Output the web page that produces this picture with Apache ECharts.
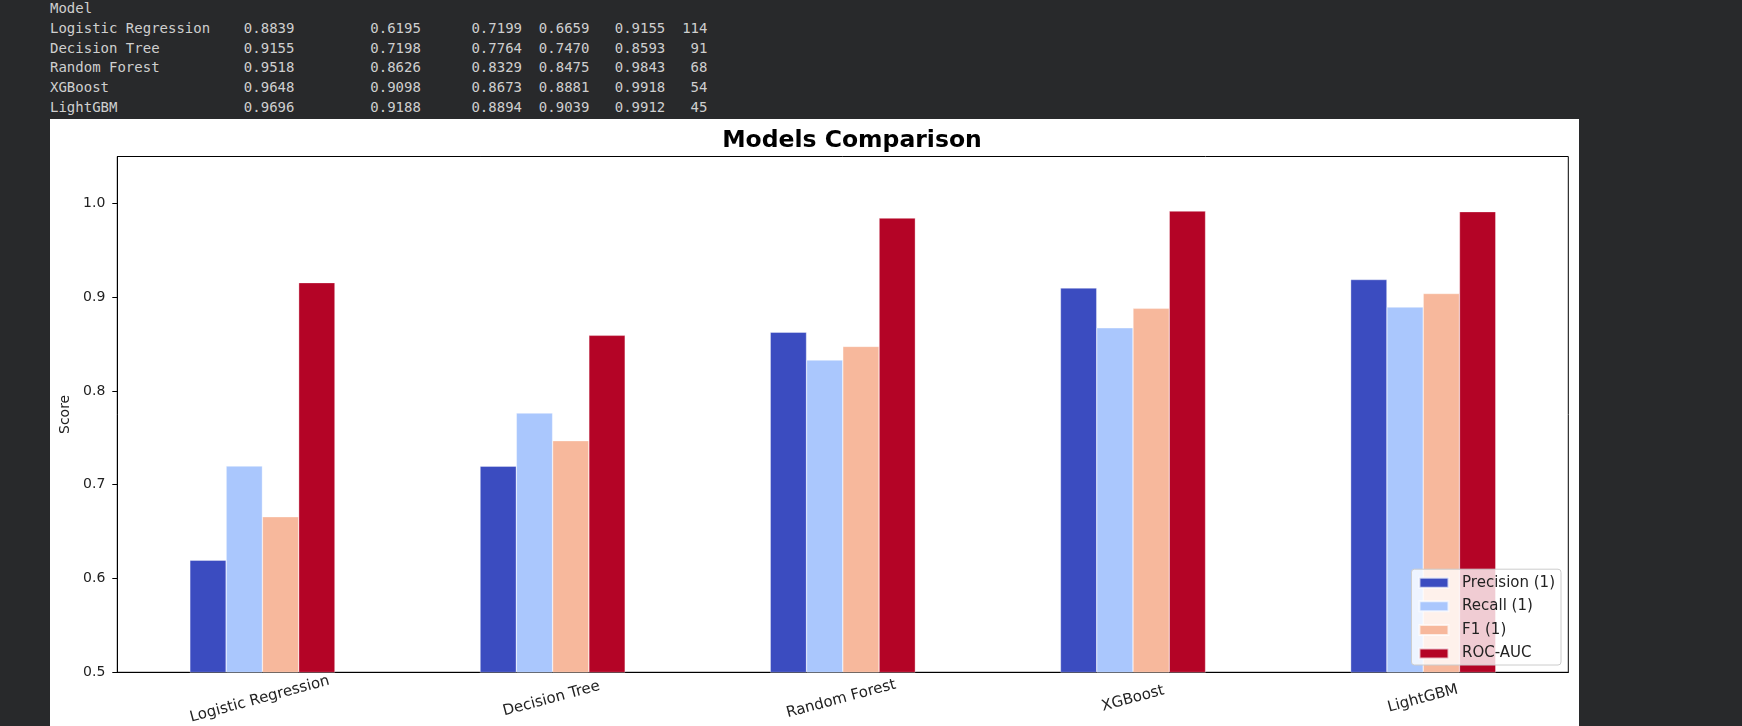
<!DOCTYPE html>
<html>
<head>
<meta charset="utf-8">
<script src="https://cdn.jsdelivr.net/npm/echarts@6/dist/echarts.min.js"></script>
<style>
	html, body {
		margin: 0;
		padding: 0;
		width: 1742px;
		height: 726px;
		overflow: hidden;
		background: #28292b;
	}
	#table {
		position: absolute;
		left: 50px;
		top: -1px;
		margin: 0;
		font-family: "DejaVu Sans Mono", monospace;
		font-size: 14px;
		line-height: 19.8px;
		color: #cfcfcf;
		white-space: pre;
	}
	#main {
		position: absolute;
		left: 50px;
		top: 119px;
		width: 1529px;
		height: 607px;
		background: #ffffff;
	}
</style>
</head>
<body>
<pre id="table"></pre>
<div id="main"></div>
<script>
	// values as printed in the notebook output
	var models = ['Logistic Regression', 'Decision Tree', 'Random Forest', 'XGBoost', 'LightGBM'];
	var accuracy = [0.8839, 0.9155, 0.9518, 0.9648, 0.9696];
	var precision = [0.6195, 0.7198, 0.8626, 0.9098, 0.9188];
	var recall = [0.7199, 0.7764, 0.8329, 0.8673, 0.8894];
	var f1 = [0.6659, 0.7470, 0.8475, 0.8881, 0.9039];
	var rocAuc = [0.9155, 0.8593, 0.9843, 0.9918, 0.9912];
	var counts = [114, 91, 68, 54, 45];

	var metricNames = ['Precision (1)', 'Recall (1)', 'F1 (1)', 'ROC-AUC'];
	var metricColors = ['#3b4cc0', '#aac7fd', '#f7b89c', '#b40426'];
	var yTicks = [0.5, 0.6, 0.7, 0.8, 0.9, 1.0];

	// text table above the plot
	var lines = ['Model'];
	for (var i = 0; i < models.length; i++) {
		lines.push(
			models[i].padEnd(19) +
			accuracy[i].toFixed(4).padStart(10) +
			precision[i].toFixed(4).padStart(15) +
			recall[i].toFixed(4).padStart(12) +
			f1[i].toFixed(4).padStart(8) +
			rocAuc[i].toFixed(4).padStart(9) +
			String(counts[i]).padStart(5)
		);
	}
	document.getElementById('table').textContent = lines.join('\n');

	var values = [precision, recall, f1, rocAuc];
	var series = [];
	for (var k = 0; k < metricNames.length; k++) {
		series.push({
			name: metricNames[k],
			type: 'bar',
			data: values[k],
			barGap: '0%',
			barCategoryGap: '50%',
			itemStyle: {
				color: metricColors[k],
				borderColor: 'rgba(255,255,255,0.7)',
				borderWidth: 0.5
			}
		});
	}

	// rotated tick labels: keep the top of each rotated box at the same height
	// (like matplotlib), so longer labels get pushed down a little
	var labelFont = 15;
	var rot = 15 * Math.PI / 180;
	var ctx = document.createElement('canvas').getContext('2d');
	ctx.font = labelFont + 'px "DejaVu Sans"';
	var boxH = models.map(function(m) {
		return ctx.measureText(m).width * Math.sin(rot) + labelFont * Math.cos(rot);
	});
	var minH = Math.min.apply(null, boxH);
	var xData = models.map(function(m, i) {
		var p = boxH[i] - minH;
		return {
			value: m,
			textStyle: {
				align: 'center',
				verticalAlign: 'middle',
				padding: [p, p * Math.tan(rot), 0, 0]
			}
		};
	});

	var chart = echarts.init(document.getElementById('main'));
	var option = {
		animation: false,
		textStyle: {
			fontFamily: 'DejaVu Sans'
		},
		title: {
			text: 'Models Comparison',
			left: 797,
			top: 5,
			textAlign: 'center',
			textStyle: {
				fontFamily: 'DejaVu Sans',
				fontSize: 23.5,
				fontWeight: 'bold',
				color: '#000'
			}
		},
		grid: {
			left: 67.3,
			right: 10.7,
			top: 37.5,
			bottom: 53.7,
			show: true,
			borderColor: '#000',
			borderWidth: 1,
			containLabel: false,
			outerBoundsMode: 'none'
		},
		legend: {
			data: metricNames,
			orient: 'vertical',
			right: 18,
			bottom: 61,
			icon: 'rect',
			itemWidth: 29,
			itemHeight: 10,
			itemGap: 8.6,
			padding: [6, 6, 4, 7],
			backgroundColor: 'rgba(255,255,255,0.8)',
			borderColor: '#cccccc',
			borderWidth: 1,
			borderRadius: 3,
			textStyle: {
				fontFamily: 'DejaVu Sans',
				fontSize: 15,
				lineHeight: 15,
				color: '#222',
				padding: [0, 0, 0, 8.6]
			}
		},
		xAxis: {
			type: 'category',
			data: xData,
			boundaryGap: true,
			axisLine: { lineStyle: { color: '#000', width: 1 } },
			axisTick: { alignWithLabel: true, length: 5, lineStyle: { color: '#000' } },
			axisLabel: {
				rotate: 15,
				align: 'center',
				verticalAlign: 'middle',
				margin: 10.7 + minH / 2,
				fontFamily: 'DejaVu Sans',
				fontSize: labelFont,
				color: '#222'
			},
			splitLine: { show: false }
		},
		yAxis: {
			type: 'value',
			min: 0.5,
			max: 1.05,
			interval: 0.1,
			name: 'Score',
			nameLocation: 'middle',
			nameGap: 41,
			nameTextStyle: {
				fontFamily: 'DejaVu Sans',
				fontSize: 14,
				color: '#222'
			},
			axisLine: { show: true, lineStyle: { color: '#000', width: 1 } },
			axisTick: { show: true, length: 5, customValues: yTicks, lineStyle: { color: '#000' } },
			axisLabel: {
				customValues: yTicks,
				margin: 12,
				fontFamily: 'DejaVu Sans',
				fontSize: 14,
				color: '#222',
				formatter: function(v) {
					return v.toFixed(1);
				}
			},
			splitLine: { show: false }
		},
		series: series
	};
	chart.setOption(option);
</script>
</body>
</html>
